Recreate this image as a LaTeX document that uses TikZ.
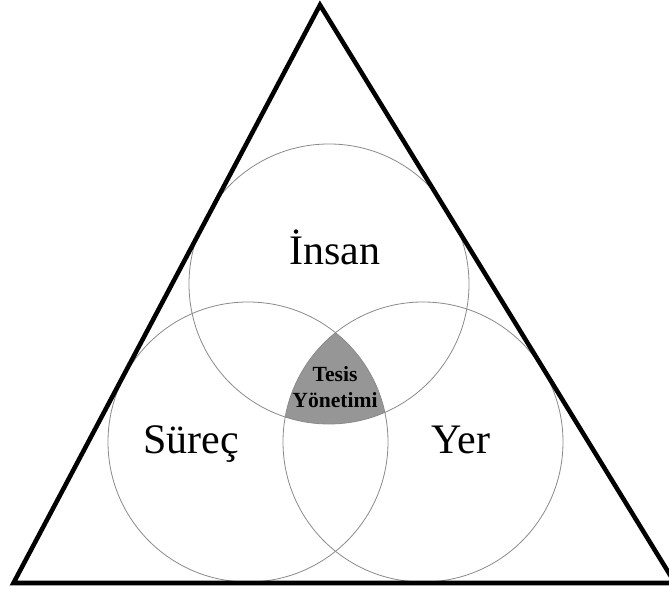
\documentclass[tikz,border=0pt]{standalone}
\usepackage{fontspec}
\setmainfont{Liberation Serif}
\usepackage{tikz}
\usetikzlibrary{positioning}
\definecolor{ring}{HTML}{8A8A8A}
\definecolor{core}{HTML}{969696}
\tikzset{
  frame/.style={line width=3.4pt, line join=miter},
  ring/.style={draw=ring, line width=0.6pt},
  setlabel/.style={font=\fontsize{31.5}{36}\selectfont, inner sep=0pt, anchor=base},
  corelabel/.style={font=\fontsize{16.2}{19.5}\selectfont\bfseries, align=center, inner sep=0pt, anchor=base}
}

\begin{document}
\begin{tikzpicture}[x=0.75pt, y=0.75pt]
        \useasboundingbox (0,0) rectangle (669,592);
        % circle centres
        \coordinate (cTop) at (329,308);
        \coordinate (cLeft) at (248,150);
        \coordinate (cRight) at (423,150);
        % shared part of all three
        \begin{scope}
          \clip (cTop) circle[radius=140];
          \clip (cLeft) circle[radius=140];
          \fill[core] (cRight) circle[radius=140];
        \end{scope}
        \draw[ring] (cTop) circle[radius=140];
        \draw[ring] (cLeft) circle[radius=140];
        \draw[ring] (cRight) circle[radius=140];
        % outer triangle
        \coordinate (apex) at (320,587);
        \coordinate (bl) at (13.5,9);
        \coordinate (br) at (675,9);
        \draw[frame] (apex) -- (bl) -- (br) -- cycle;
        \node[setlabel] (insan) at (335,327) {İnsan};
        \node[setlabel] (surec) at (191,138) {Süreç};
        \node[setlabel] (yer) at (461,138) {Yer};
        \node[corelabel] (tesis) at (335,184) {Tesis\\Yönetimi};
\end{tikzpicture}
\end{document}
